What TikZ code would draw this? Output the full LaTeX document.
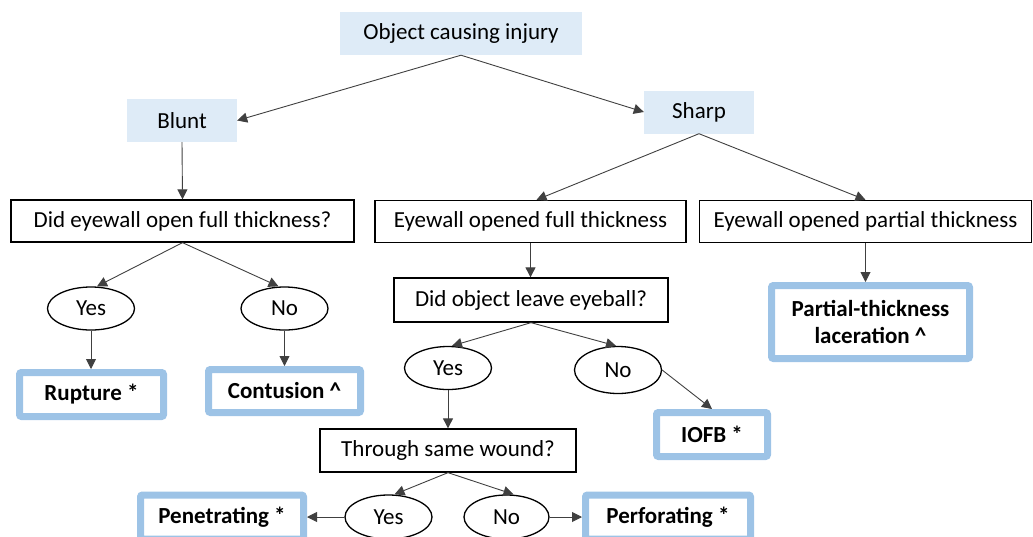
\documentclass[tikz,border=0pt]{standalone}
\usepackage{fontspec}
\setmainfont{Carlito}
\usetikzlibrary{arrows.meta,shapes.geometric}
\definecolor{lightblue}{HTML}{DEEBF7}
\definecolor{borderblue}{HTML}{9DC3E6}
\definecolor{linegray}{HTML}{404040}
\begin{document}
\begin{tikzpicture}[x=1pt,y=-1pt,
  every node/.style={font=\fontsize{23}{27}\selectfont, inner sep=0pt},
  topbox/.style={fill=lightblue, minimum height=43pt},
  qbox/.style={draw=black, line width=1.3pt, minimum height=42pt},
  oval/.style={draw=black, line width=1.3pt, ellipse, minimum width=87pt, minimum height=43pt},
  result/.style={draw=borderblue, line width=7pt, rounded corners=2pt, font=\fontsize{23}{27}\selectfont\bfseries, align=center},
  conn/.style={draw=linegray, line width=0.9pt, -{Triangle[length=10pt,width=10pt]}}
]
\useasboundingbox (0,0) rectangle (1033,536);
% top level
\node[topbox, minimum width=242pt] (obj) at (461,33.5) {Object causing injury};
\node[topbox, minimum width=110pt] (blunt) at (182,120.5) {Blunt};
\node[topbox, minimum width=110pt] (sharp) at (699,112) {Sharp};
% questions
\node[qbox, minimum width=343pt] (q1) at (182.5,221) {Did eyewall open full thickness?};
\node[qbox, minimum width=311pt] (full) at (530.5,221.5) {Eyewall opened full thickness};
\node[qbox, minimum width=332pt] (partial) at (865.5,221.5) {Eyewall opened partial thickness};
\node[qbox, minimum width=274pt, minimum height=44pt] (q2) at (531,300) {Did object leave eyeball?};
\node[qbox, minimum width=256pt, minimum height=43pt] (q3) at (448,450.5) {Through same wound?};
% ovals
\node[oval] (y1) at (91,308.5) {Yes};
\node[oval] (n1) at (284.5,308.5) {No};
\node[oval] (y2) at (448,368) {Yes};
\node[oval, minimum height=47pt] (n2) at (618,370) {No};
\node[oval, minimum height=44pt] (y3) at (388.5,517) {Yes};
\node[oval, minimum width=85pt, minimum height=44pt] (n3) at (506.5,517) {No};
% results
\node[result, minimum width=144pt, minimum height=44pt] (rup) at (91.5,394.5) {Rupture *};
\node[result, minimum width=152pt, minimum height=43pt] (cont) at (284.5,391) {Contusion \^{}};
\node[result, minimum width=111pt, minimum height=44pt] (iofb) at (712,434.5) {IOFB *};
\node[result, minimum width=198pt, minimum height=73pt] (lac) at (870.5,322) {Partial-thickness\\laceration \^{}};
\node[result, minimum width=163pt, minimum height=44pt] (pen) at (222,517) {Penetrating *};
\node[result, minimum width=165pt, minimum height=44pt] (perf) at (668,517) {Perforating *};
% connectors
\draw[conn] (obj.south) -- (blunt.east);
\draw[conn] (obj.south) -- (sharp.west);
\draw[conn] (blunt.south) -- (q1.north);
\draw[conn] (sharp.south) -- ([xshift=6pt]full.north);
\draw[conn] (sharp.south) -- (partial.north);
\draw[conn] (q1.south) -- ([xshift=6pt]y1.north);
\draw[conn] (q1.south) -- ([xshift=-6pt]n1.north);
\draw[conn] (y1.south) -- (y1.south |- rup.north);
\draw[conn] (n1.south) -- (n1.south |- cont.north);
\draw[conn] (full.south) -- (full.south |- q2.north);
\draw[conn] (partial.south) -- (partial.south |- lac.north);
\draw[conn] (q2.south) -- ([xshift=4pt]y2.north);
\draw[conn] (q2.south) -- ([xshift=-2pt]n2.north);
\draw[conn] (n2.east) -- (iofb.north);
\draw[conn] (y2.south) -- (y2.south |- q3.north);
\draw[conn] (q3.south) -- ([xshift=6pt]y3.north);
\draw[conn] (q3.south) -- ([xshift=7pt]n3.north);
\draw[conn] (y3.west) -- (pen.east);
\draw[conn] (n3.east) -- (perf.west);
\end{tikzpicture}
\end{document}
